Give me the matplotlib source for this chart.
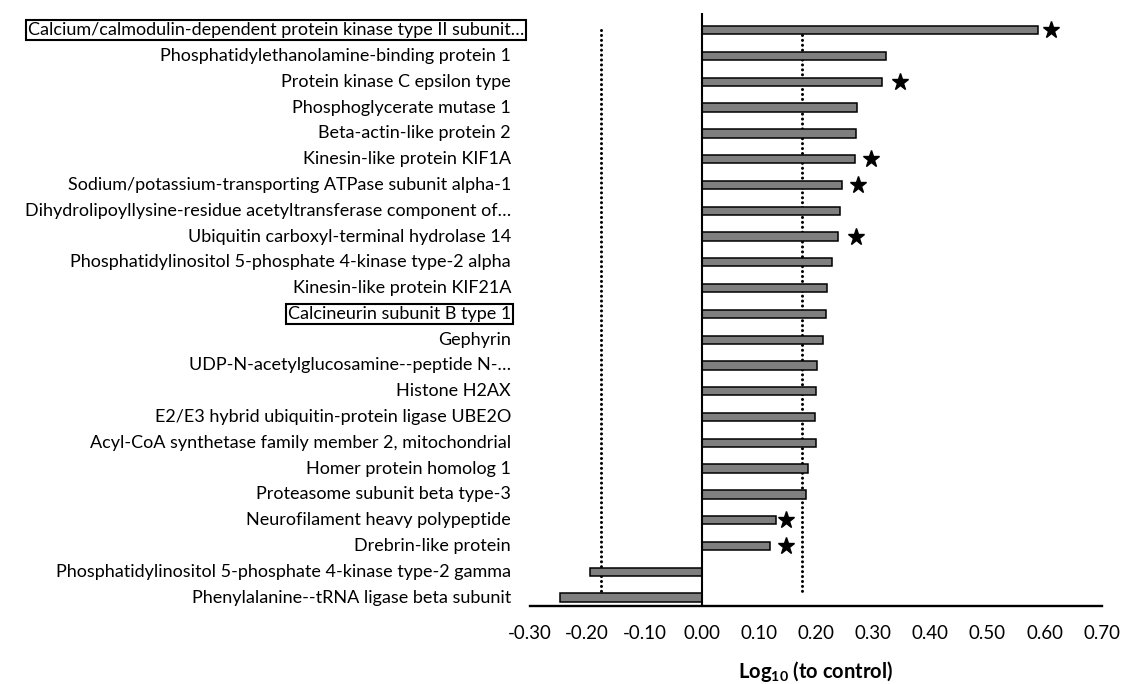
import matplotlib
matplotlib.use("Agg")
import matplotlib.pyplot as plt
import matplotlib.transforms as mtransforms
from matplotlib.ticker import MultipleLocator, FormatStrFormatter

plt.rcParams["font.family"] = ["Lato", "DejaVu Sans"]
plt.rcParams["axes.unicode_minus"] = False
plt.rcParams["mathtext.fontset"] = "custom"
plt.rcParams["mathtext.rm"] = "Lato"
plt.rcParams["mathtext.bf"] = "Lato:bold"

# ---------- data (top to bottom) ----------
proteins = [
    "Calcium/calmodulin-dependent protein kinase type II subunit…",
    "Phosphatidylethanolamine-binding protein 1",
    "Protein kinase C epsilon type",
    "Phosphoglycerate mutase 1",
    "Beta-actin-like protein 2",
    "Kinesin-like protein KIF1A",
    "Sodium/potassium-transporting ATPase subunit alpha-1",
    "Dihydrolipoyllysine-residue acetyltransferase component of…",
    "Ubiquitin carboxyl-terminal hydrolase 14",
    "Phosphatidylinositol 5-phosphate 4-kinase type-2 alpha",
    "Kinesin-like protein KIF21A",
    "Calcineurin subunit B type 1",
    "Gephyrin",
    "UDP-N-acetylglucosamine--peptide N-…",
    "Histone H2AX",
    "E2/E3 hybrid ubiquitin-protein ligase UBE2O",
    "Acyl-CoA synthetase family member 2, mitochondrial",
    "Homer protein homolog 1",
    "Proteasome subunit beta type-3",
    "Neurofilament heavy polypeptide",
    "Drebrin-like protein",
    "Phosphatidylinositol 5-phosphate 4-kinase type-2 gamma",
    "Phenylalanine--tRNA ligase beta subunit",
]
log_ratio = [0.588, 0.323, 0.315, 0.272, 0.271, 0.268, 0.246, 0.242, 0.238,
             0.229, 0.220, 0.218, 0.212, 0.202, 0.200, 0.198, 0.201, 0.187,
             0.182, 0.130, 0.120, -0.195, -0.247]
# x of significance star (None = no star)
star_x = [0.612, None, 0.347, None, None, 0.297, 0.274, None, 0.271, None,
          None, None, None, None, None, None, None, None, None, 0.147, 0.147,
          None, None]
boxed = ["Calcium/calmodulin-dependent protein kinase type II subunit…",
         "Calcineurin subunit B type 1"]
threshold = 0.176   # log10(1.5)

ypos = list(range(len(proteins)))

fig = plt.figure(figsize=(11.23, 6.84), dpi=100)
ax = fig.add_axes([0.472, 0.114, 0.509, 0.867])

ax.barh(ypos, log_ratio, height=0.32, color="#7f7f7f", edgecolor="black", lw=1.1, zorder=3)
sx = [s for s in star_x if s is not None]
sy = [y for y, s in zip(ypos, star_x) if s is not None]
ax.plot(sx, sy, ls="none", marker="*", ms=12.5, color="black", zorder=4)

# threshold lines
for t in (-threshold, threshold):
    ax.plot([t, t], [0, 21.8], color="black", lw=2.2, ls=(0, (0.01, 1.6)),
            dash_capstyle="round", zorder=2)
ax.axvline(0, color="black", lw=1.5, zorder=5)

ax.set_xlim(-0.30, 0.70)
ax.set_ylim(22.33, -0.67)
ax.xaxis.set_major_locator(MultipleLocator(0.1))
ax.xaxis.set_major_formatter(FormatStrFormatter("%.2f"))
ax.tick_params(axis="x", length=0, pad=14, labelsize=13.5)
ax.set_yticks([])
for s in ("left", "top", "right"):
    ax.spines[s].set_visible(False)
ax.spines["bottom"].set_linewidth(1.7)

# category labels at left of plot area
lab_tr = mtransforms.blended_transform_factory(ax.transAxes, ax.transData)
for y, name in zip(ypos, proteins):
    dx = 13 if y == 0 else 0
    off = mtransforms.ScaledTranslation((dx - 19) / 100, 0, fig.dpi_scale_trans)
    kw = {}
    if name in boxed:
        kw["bbox"] = dict(boxstyle="square,pad=0.12", fc="none", ec="black", lw=1.5)
    ax.text(0, y, name, transform=lab_tr + off, ha="right", va="center",
            fontsize=13, **kw)

ax.set_xlabel(r"Log$_{\mathbf{10}}$ (to control)", fontsize=14.5, fontweight="bold",
              labelpad=12)

fig.savefig("out.png", dpi=100)
